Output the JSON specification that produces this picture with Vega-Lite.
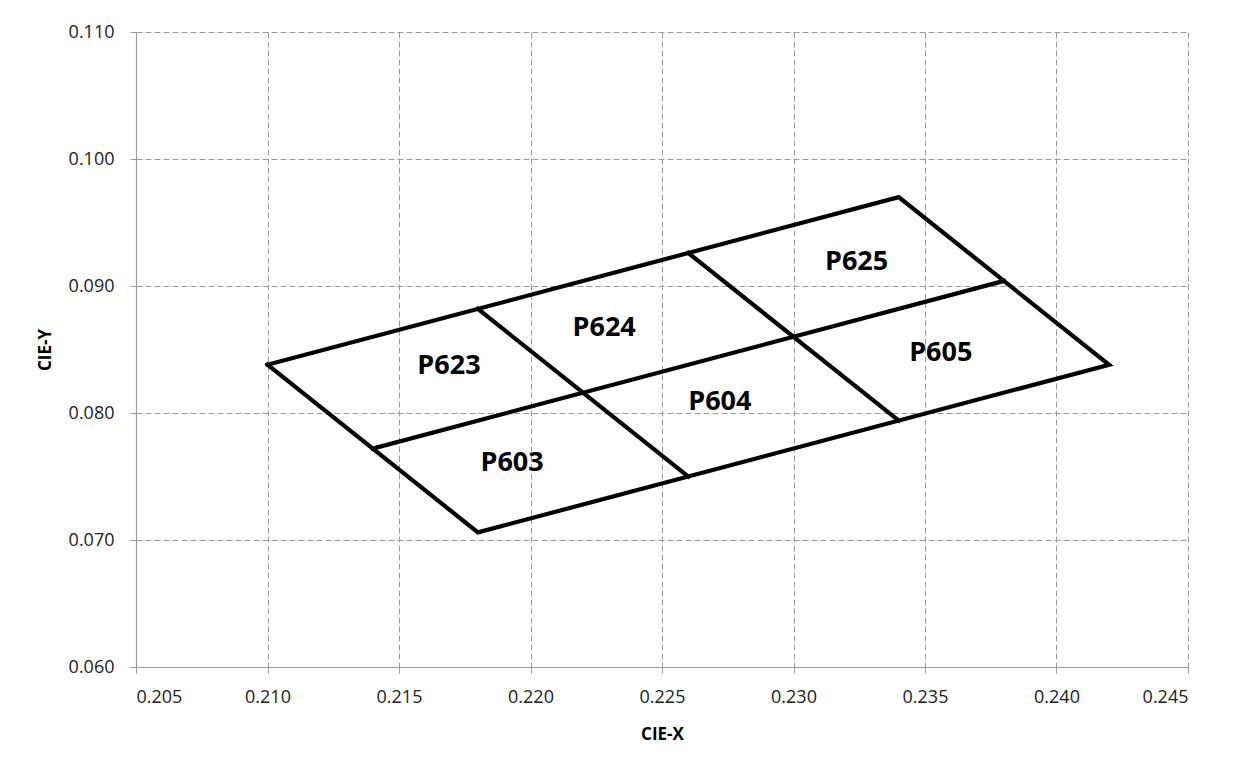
{
  "$schema": "https://vega.github.io/schema/vega-lite/v6.json",
  "autosize": "none",
  "width": 1052,
  "height": 635,
  "padding": {"left": 136, "top": 32, "right": 48, "bottom": 100},
  "background": "white",
  "config": {
    "view": {"stroke": null},
    "font": "Open Sans",
    "axis": {
      "gridColor": "#9a9a9a",
      "gridDash": [6, 3],
      "gridWidth": 1,
      "domainColor": "#9a9a9a",
      "domainWidth": 1.2,
      "tickColor": "#9a9a9a",
      "tickSize": 6,
      "labelFont": "Open Sans",
      "labelFontSize": 18,
      "labelColor": "#222",
      "titleFont": "Open Sans",
      "titleFontSize": 17,
      "titleFontWeight": "bold",
      "titleColor": "#000"
    }
  },
  "datasets": {
    "segs": [
      {"seg": "outer", "ord": 1, "cx": 0.210, "cy": 0.0838},
      {"seg": "outer", "ord": 2, "cx": 0.234, "cy": 0.0970},
      {"seg": "outer", "ord": 3, "cx": 0.242, "cy": 0.0838},
      {"seg": "outer", "ord": 4, "cx": 0.218, "cy": 0.0706},
      {"seg": "outer", "ord": 5, "cx": 0.210, "cy": 0.0838},
      {"seg": "mid", "ord": 1, "cx": 0.214, "cy": 0.0772},
      {"seg": "mid", "ord": 2, "cx": 0.238, "cy": 0.0904},
      {"seg": "div1", "ord": 1, "cx": 0.218, "cy": 0.0882},
      {"seg": "div1", "ord": 2, "cx": 0.226, "cy": 0.0750},
      {"seg": "div2", "ord": 1, "cx": 0.226, "cy": 0.0926},
      {"seg": "div2", "ord": 2, "cx": 0.234, "cy": 0.0794}
    ],
    "labels": [
      {"name": "P623", "cx": 0.2169, "cy": 0.0837},
      {"name": "P624", "cx": 0.2228, "cy": 0.0867},
      {"name": "P625", "cx": 0.2324, "cy": 0.0919},
      {"name": "P603", "cx": 0.2193, "cy": 0.0761},
      {"name": "P604", "cx": 0.2272, "cy": 0.0809},
      {"name": "P605", "cx": 0.2356, "cy": 0.0847}
    ]
  },
  "layer": [
    {
      "data": {"name": "segs"},
      "mark": {"type": "line", "color": "#000", "strokeWidth": 4.2, "strokeJoin": "miter", "strokeCap": "square"},
      "encoding": {
        "x": {
          "field": "cx", "type": "quantitative",
          "scale": {"domain": [0.205, 0.245], "nice": false, "zero": false},
          "axis": {
            "values": [0.205, 0.21, 0.215, 0.22, 0.225, 0.23, 0.235, 0.24, 0.245],
            "format": ".3f", "title": "CIE-X", "labelPadding": 15, "titlePadding": 20
          }
        },
        "y": {
          "field": "cy", "type": "quantitative",
          "scale": {"domain": [0.06, 0.11], "nice": false, "zero": false},
          "axis": {
            "values": [0.06, 0.07, 0.08, 0.09, 0.1, 0.11],
            "format": ".3f", "title": "CIE-Y", "labelPadding": 16, "titlePadding": 14
          }
        },
        "detail": {"field": "seg"},
        "order": {"field": "ord", "type": "quantitative"}
      }
    },
    {
      "data": {"name": "labels"},
      "mark": {"type": "text", "font": "Open Sans", "fontSize": 27, "fontWeight": "bold", "color": "#000", "align": "center", "baseline": "middle"},
      "encoding": {
        "x": {"field": "cx", "type": "quantitative"},
        "y": {"field": "cy", "type": "quantitative"},
        "text": {"field": "name"}
      }
    }
  ]
}
